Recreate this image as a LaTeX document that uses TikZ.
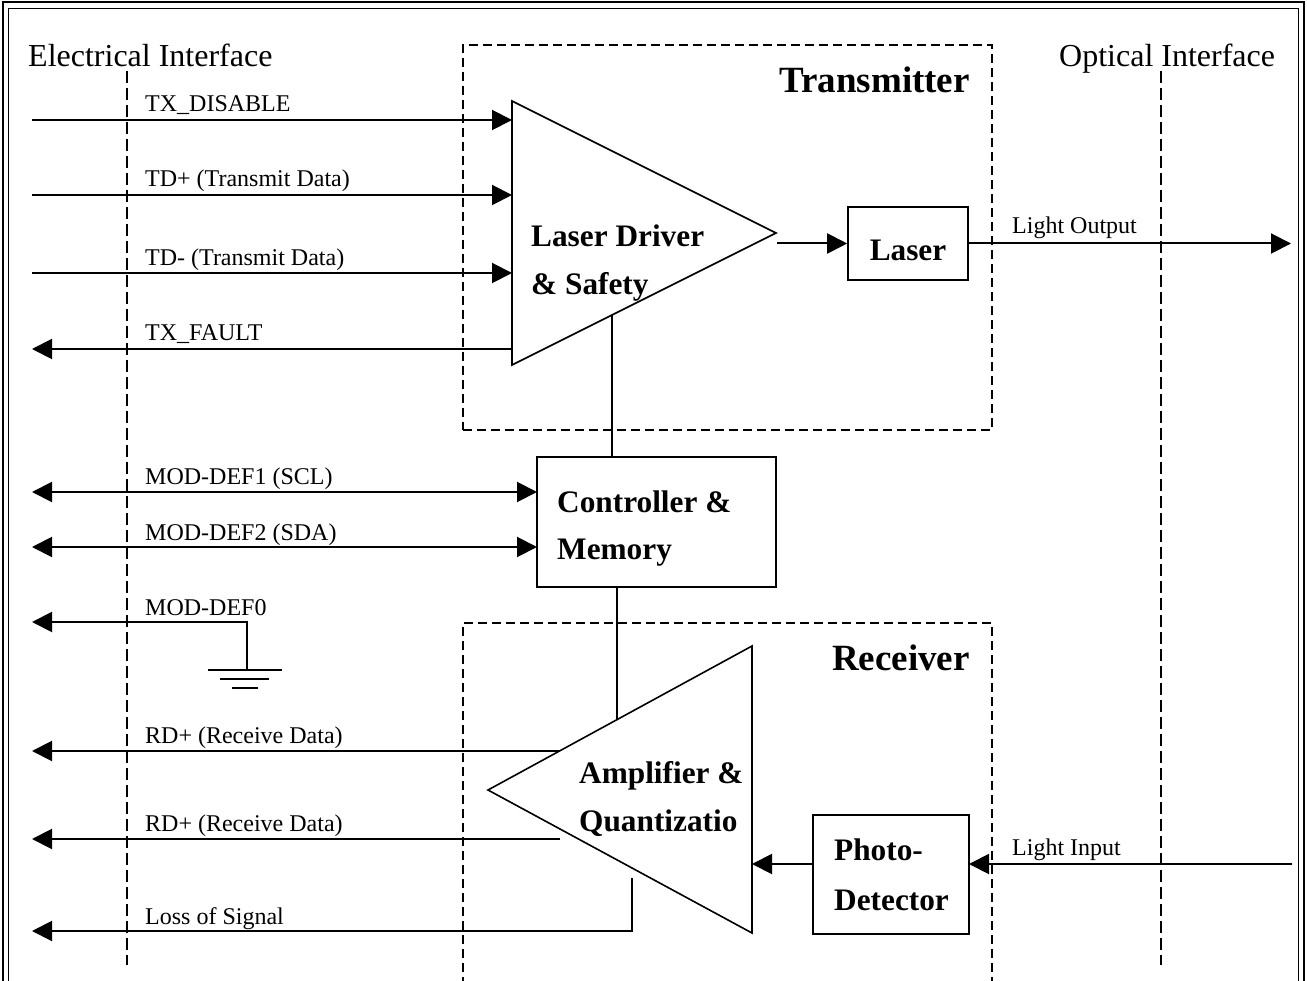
\documentclass[tikz,border=0pt]{standalone}
\usepackage{fontspec}
\setmainfont{Liberation Serif}
\usetikzlibrary{arrows.meta}
\begin{document}
\begin{tikzpicture}[x=1pt,y=-1pt,
  conn/.style={line width=2pt},
  arr/.style={conn,-{Triangle[length=20pt,width=20pt]}},
  biarr/.style={conn,{Triangle[length=20pt,width=20pt]}-{Triangle[length=20pt,width=20pt]}},
  shapeline/.style={line width=1.6pt},
  blk/.style={draw,line width=1.6pt,inner sep=0pt},
  dashbox/.style={line width=1.6pt,dash pattern=on 9pt off 5pt},
  iface/.style={line width=1.6pt,dash pattern=on 12pt off 5pt},
  lbl/.style={anchor=base west,inner sep=0pt,font=\fontsize{24}{28}\selectfont},
  big/.style={anchor=base west,inner sep=0pt,font=\fontsize{32}{36}\selectfont},
  boldlbl/.style={anchor=base west,inner sep=0pt,font=\fontsize{31.3}{36}\selectfont\bfseries},
  titlelbl/.style={anchor=base east,inner sep=0pt,font=\fontsize{37}{40}\selectfont\bfseries},
]
\useasboundingbox (0,0) rectangle (1307,981);

% frame
\draw[line width=2pt] (2.5,2.5) rectangle (1304,1010);
\draw[line width=1.2pt] (8.5,8.5) rectangle (1298.5,1010);

% interface lines
\coordinate (eTop) at (127,71);
\coordinate (eBot) at (127,965);
\coordinate (oTop) at (1161,71);
\coordinate (oBot) at (1161,965);
\draw[iface] (eTop) -- (eBot);
\draw[iface] (oTop) -- (oBot);
\node[big] (elec) at (28,67) {Electrical Interface};
\node[big] (opt) at (1059,67) {Optical Interface};

% transmitter / receiver regions
\node[draw,dashbox,minimum width=529pt,minimum height=385pt,inner sep=0pt] (txbox) at (727.5,237.5) {};
\node[titlelbl] (txt) at (970,93) {Transmitter};
\coordinate (rxA) at (463,1000);
\coordinate (rxB) at (463,623);
\coordinate (rxC) at (992,623);
\coordinate (rxD) at (992,1000);
\draw[dashbox] (rxA) -- (rxB) -- (rxC) -- (rxD);
\node[titlelbl] (rxt) at (970,670) {Receiver};

% laser driver triangle
\coordinate (ldTop) at (512,101);
\coordinate (ldTip) at (776,233);
\coordinate (ldBot) at (512,365);
\draw[shapeline] (ldTop) -- (ldTip) -- (ldBot) -- cycle;
\node[boldlbl] (ld1) at (531,247) {Laser Driver};
\node[boldlbl] (ld2) at (531,295) {\& Safety};

% laser
\node[blk,minimum width=120pt,minimum height=73pt] (laser) at (908,243.5) {};
\node[boldlbl,anchor=base] (lasert) at (908,261) {Laser};
\coordinate (ldOut) at (777,243.5);
\draw[arr] (ldOut) -- (laser.west);
\coordinate (lightOut) at (1291,243.5);
\draw[arr] (laser.east) -- (lightOut);
\node[lbl] (lol) at (1012,234) {Light Output};

% controller
\node[blk,minimum width=239pt,minimum height=130pt] (ctrl) at (656.5,522) {};
\node[boldlbl] (c1) at (557,512) {Controller \&};
\node[boldlbl] (c2) at (557,559) {Memory};
\coordinate (ldC) at (612,315);
\draw[shapeline] (ldC) -- (ldC |- ctrl.north);

% amplifier triangle
\coordinate (amTop) at (752,646);
\coordinate (amTip) at (488,790);
\coordinate (amBot) at (752,933);
\draw[shapeline] (amTop) -- (amTip) -- (amBot) -- cycle;
\node[boldlbl] (a1) at (579,783) {Amplifier \&};
\node[boldlbl] (a2) at (579,831) {Quantizatio};
\coordinate (amC) at (617,720);
\draw[shapeline] (amC |- ctrl.south) -- (amC);

% photo detector
\node[blk,minimum width=156pt,minimum height=119pt] (pd) at (891,874.5) {};
\node[boldlbl] (p1) at (834,860) {Photo-};
\node[boldlbl] (p2) at (834,910) {Detector};
\coordinate (pdL) at (813,864);
\coordinate (amR) at (752,864);
\draw[arr] (pdL) -- (amR);
\coordinate (pdR) at (969,864);
\coordinate (lightIn) at (1292,864);
\draw[arr] (lightIn) -- (pdR);
\node[lbl] (lil) at (1012,855) {Light Input};

% transmitter signals
\coordinate (s1L) at (32,120);  \coordinate (s1R) at (512,120);
\coordinate (s2L) at (32,195);  \coordinate (s2R) at (512,195);
\coordinate (s3L) at (32,273);  \coordinate (s3R) at (512,273);
\coordinate (s4L) at (32,349);  \coordinate (s4R) at (512,349);
\draw[arr] (s1L) -- (s1R);
\draw[arr] (s2L) -- (s2R);
\draw[arr] (s3L) -- (s3R);
\draw[arr] (s4R) -- (s4L);
\node[lbl] (l1) at (145,112) {TX\_DISABLE};
\node[lbl] (l2) at (145,187) {TD+ (Transmit Data)};
\node[lbl] (l3) at (145,266) {TD- (Transmit Data)};
\node[lbl] (l4) at (145,341) {TX\_FAULT};

% module definition
\coordinate (m1L) at (32,492); \coordinate (m1R) at (537,492);
\coordinate (m2L) at (32,547); \coordinate (m2R) at (537,547);
\draw[biarr] (m1L) -- (m1R);
\draw[biarr] (m2L) -- (m2R);
\node[lbl] (l5) at (145,485) {MOD-DEF1 (SCL)};
\node[lbl] (l6) at (145,540) {MOD-DEF2 (SDA)};
\coordinate (m0L) at (32,622);
\coordinate (m0C) at (247,622);
\coordinate (gnd) at (247,670);
\draw[arr] (gnd) -- (m0C) -- (m0L);
\node[lbl] (l7) at (145,615) {MOD-DEF0};
\coordinate (g1a) at (208,670); \coordinate (g1b) at (282,670);
\coordinate (g2a) at (220,679); \coordinate (g2b) at (269,679);
\coordinate (g3a) at (232,688); \coordinate (g3b) at (258,688);
\draw[conn] (g1a) -- (g1b);
\draw[conn] (g2a) -- (g2b);
\draw[conn] (g3a) -- (g3b);

% receiver signals
\coordinate (r1R) at (559.5,751); \coordinate (r1L) at (32,751);
\coordinate (r2R) at (560,839);   \coordinate (r2L) at (32,839);
\coordinate (r3T) at (632,878);   \coordinate (r3C) at (632,931); \coordinate (r3L) at (32,931);
\draw[arr] (r1R) -- (r1L);
\draw[arr] (r2R) -- (r2L);
\draw[arr] (r3T) -- (r3C) -- (r3L);
\node[lbl] (l8) at (145,743) {RD+ (Receive Data)};
\node[lbl] (l9) at (145,831) {RD+ (Receive Data)};
\node[lbl] (l10) at (145,924) {Loss of Signal};
\end{tikzpicture}
\end{document}
